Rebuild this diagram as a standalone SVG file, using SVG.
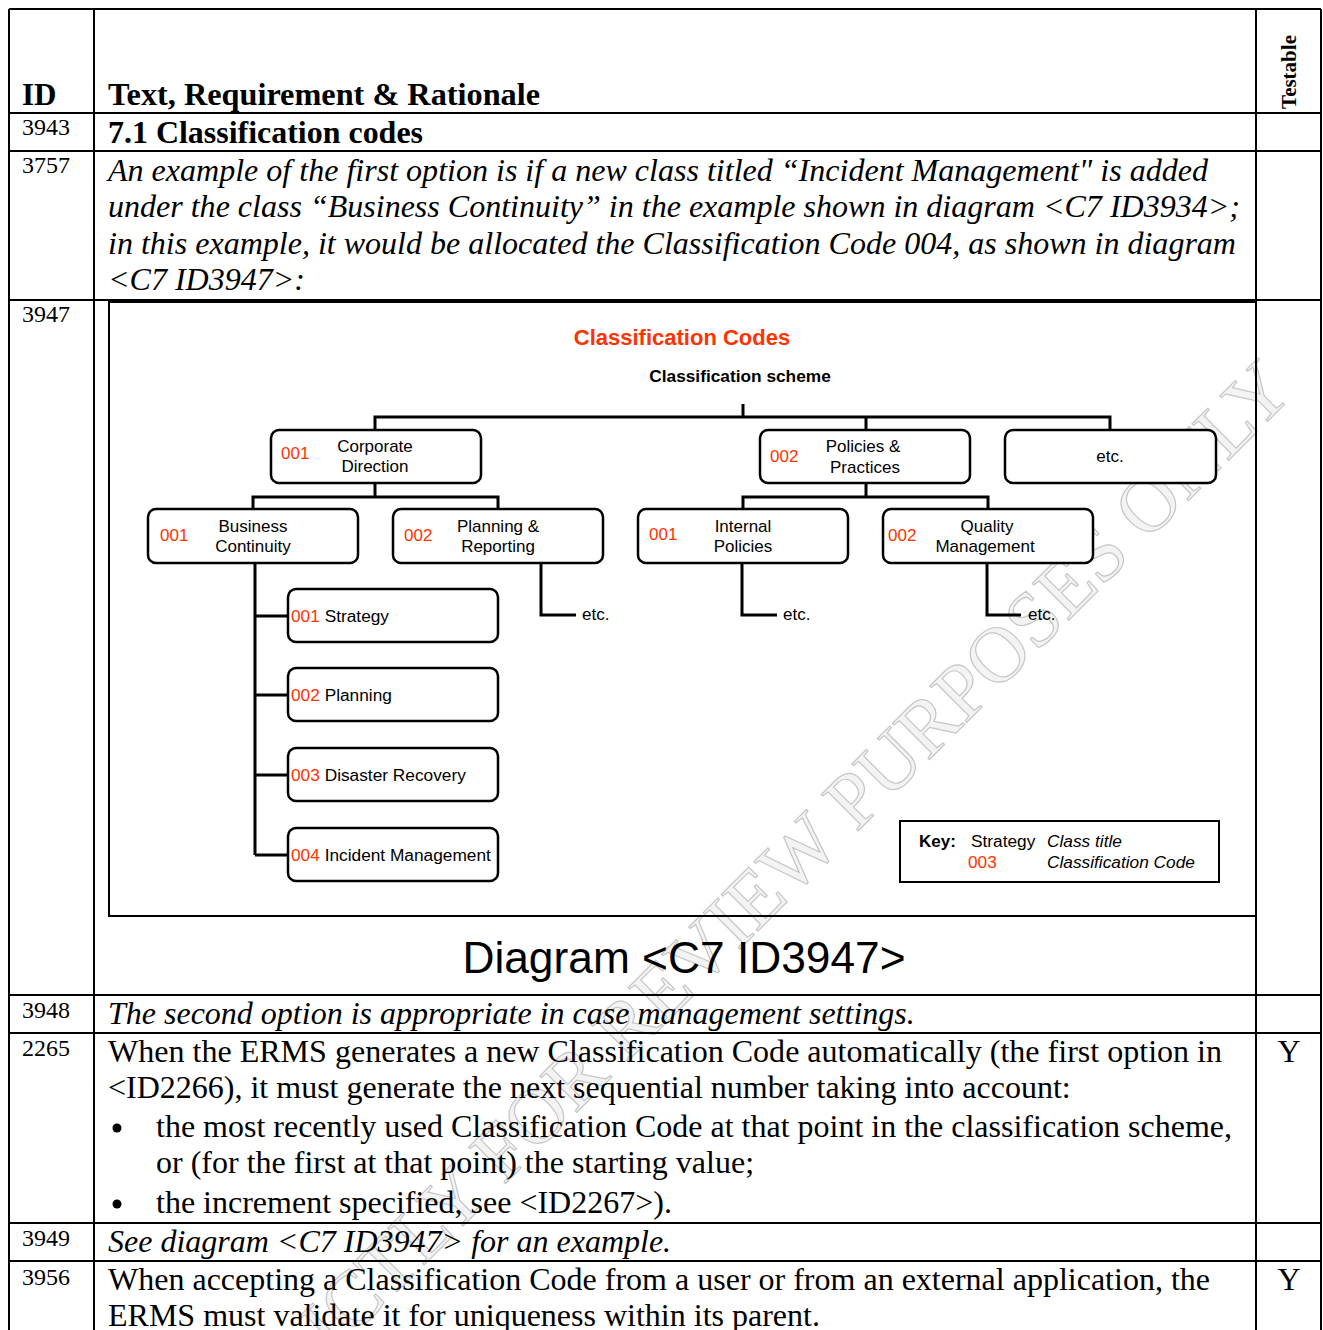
<svg xmlns="http://www.w3.org/2000/svg" width="1323" height="1330" viewBox="0 0 1323 1330">
<style>
.grid{stroke:#000;stroke-width:2;fill:none}
.tr{font-family:"Liberation Serif","Times New Roman",serif;fill:#000}
.id{font-size:24px}
.b{font-weight:bold}
.it{font-style:italic}
.body{font-size:32px}
.ar{font-family:"Liberation Sans",Arial,sans-serif;fill:#000}
.red{fill:#ff3300}
.box{fill:#fff;stroke:#000;stroke-width:2.5}
.ln{stroke:#000;stroke-width:3;fill:none}
.wm{font-family:"Liberation Serif","Times New Roman",serif;font-size:79px;fill:#f3f3f3;stroke:#c6c6c6;stroke-width:1.2}
</style>
<rect x="0" y="0" width="1323" height="1330" fill="#fff"/>

<!-- watermark -->
<text class="wm" text-anchor="end" transform="translate(1296,393) rotate(-45)">STRICTLY FOR REVIEW PURPOSES ONLY</text>

<!-- table grid -->
<g id="table-grid" class="grid">
<line x1="9" y1="9" x2="1321" y2="9"/>
<line x1="9" y1="9" x2="9" y2="1330"/>
<line x1="94" y1="9" x2="94" y2="1330"/>
<line x1="1256" y1="9" x2="1256" y2="1330"/>
<line x1="1321" y1="9" x2="1321" y2="1330"/>
<line x1="9" y1="113" x2="1321" y2="113"/>
<line x1="9" y1="151" x2="1321" y2="151"/>
<line x1="9" y1="300" x2="1321" y2="300"/>
<line x1="9" y1="995" x2="1321" y2="995"/>
<line x1="9" y1="1033" x2="1321" y2="1033"/>
<line x1="9" y1="1223" x2="1321" y2="1223"/>
<line x1="9" y1="1261" x2="1321" y2="1261"/>
</g>

<!-- header -->
<g id="header">
<text class="tr b" x="22" y="105" font-size="31">ID</text>
<text class="tr b" x="108" y="105" font-size="32" textLength="432" lengthAdjust="spacingAndGlyphs">Text, Requirement &amp; Rationale</text>
<text class="tr b" font-size="21" text-anchor="middle" transform="translate(1296,72) rotate(-90)">Testable</text>
</g>

<g id="row-3943">
<text class="tr id" x="22" y="135">3943</text>
<text class="tr b" x="108" y="143" font-size="32" textLength="315" lengthAdjust="spacingAndGlyphs">7.1 Classification codes</text>
</g>

<g id="row-3757">
<text class="tr id" x="22" y="173">3757</text>
<text class="tr it body" x="108" y="181" textLength="1100" lengthAdjust="spacingAndGlyphs">An example of the first option is if a new class titled “Incident Management" is added</text>
<text class="tr it body" x="108" y="217" textLength="1132" lengthAdjust="spacingAndGlyphs">under the class “Business Continuity” in the example shown in diagram &lt;C7 ID3934&gt;;</text>
<text class="tr it body" x="108" y="254" textLength="1128" lengthAdjust="spacingAndGlyphs">in this example, it would be allocated the Classification Code 004, as shown in diagram</text>
<text class="tr it body" x="108" y="290">&lt;C7 ID3947&gt;:</text>
</g>

<g id="row-3947">
<text class="tr id" x="22" y="322">3947</text>
<rect x="109" y="302" width="1147" height="614" fill="none" stroke="#000" stroke-width="2"/>
<text class="ar b red" x="682" y="345" font-size="22" text-anchor="middle">Classification Codes</text>
<text class="ar b" x="740" y="382" font-size="17.3" text-anchor="middle">Classification scheme</text>
<text class="ar" x="684" y="973" font-size="44.3" text-anchor="middle">Diagram &lt;C7 ID3947&gt;</text>
</g>

<!-- connectors -->
<g id="connectors" class="ln">
<path d="M743,404 V417 M375,430 V417 H1110 V430 M866,417 V430"/>
<path d="M375,483 V497 M253,509 V497 H498 V509"/>
<path d="M866,483 V497 M743,509 V497 H988 V509"/>
<path d="M541,563 V615 H576"/>
<path d="M742,563 V615 H777"/>
<path d="M987,563 V615 H1021"/>
<path d="M255,563 V855 M255,616 H288 M255,695 H288 M255,775 H288 M255,855 H288"/>
</g>

<g id="node-corporate-direction">
<rect class="box" x="271" y="430" width="210" height="53" rx="8"/>
<text class="ar red" x="281" y="459" font-size="17">001</text>
<text class="ar" x="375" y="452" font-size="17" text-anchor="middle">Corporate</text>
<text class="ar" x="375" y="472" font-size="17" text-anchor="middle">Direction</text>
</g>
<g id="node-policies-practices">
<rect class="box" x="760" y="430" width="210" height="53" rx="8"/>
<text class="ar red" x="770" y="462" font-size="17">002</text>
<text class="ar" x="863" y="452" font-size="17" text-anchor="middle">Policies &amp;</text>
<text class="ar" x="865" y="473" font-size="17" text-anchor="middle">Practices</text>
</g>
<g id="node-etc-top">
<rect class="box" x="1005" y="430" width="211" height="53" rx="8"/>
<text class="ar" x="1110" y="462" font-size="17" text-anchor="middle">etc.</text>
</g>
<g id="node-business-continuity">
<rect class="box" x="148" y="509" width="210" height="54" rx="8"/>
<text class="ar red" x="160" y="541" font-size="17">001</text>
<text class="ar" x="253" y="532" font-size="17" text-anchor="middle">Business</text>
<text class="ar" x="253" y="552" font-size="17" text-anchor="middle">Continuity</text>
</g>
<g id="node-planning-reporting">
<rect class="box" x="393" y="509" width="210" height="54" rx="8"/>
<text class="ar red" x="404" y="541" font-size="17">002</text>
<text class="ar" x="498" y="532" font-size="17" text-anchor="middle">Planning &amp;</text>
<text class="ar" x="498" y="552" font-size="17" text-anchor="middle">Reporting</text>
</g>
<g id="node-internal-policies">
<rect class="box" x="638" y="509" width="210" height="54" rx="8"/>
<text class="ar red" x="649" y="540" font-size="17">001</text>
<text class="ar" x="743" y="532" font-size="17" text-anchor="middle">Internal</text>
<text class="ar" x="743" y="552" font-size="17" text-anchor="middle">Policies</text>
</g>
<g id="node-quality-management">
<rect class="box" x="883" y="509" width="210" height="54" rx="8"/>
<text class="ar red" x="888" y="541" font-size="17">002</text>
<text class="ar" x="987" y="532" font-size="17" text-anchor="middle">Quality</text>
<text class="ar" x="985" y="552" font-size="17" text-anchor="middle">Management</text>
</g>
<g id="etc-planning"><text class="ar" x="582" y="620" font-size="17">etc.</text></g>
<g id="etc-internal"><text class="ar" x="783" y="620" font-size="17">etc.</text></g>
<g id="etc-quality"><text class="ar" x="1028" y="620" font-size="17">etc.</text></g>

<g id="node-strategy">
<rect class="box" x="288" y="589" width="210" height="53" rx="8"/>
<text class="ar" x="291" y="622" font-size="17.3"><tspan class="red">001</tspan> Strategy</text>
</g>
<g id="node-planning">
<rect class="box" x="288" y="668" width="210" height="53" rx="8"/>
<text class="ar" x="291" y="701" font-size="17.3"><tspan class="red">002</tspan> Planning</text>
</g>
<g id="node-disaster-recovery">
<rect class="box" x="288" y="748" width="210" height="53" rx="8"/>
<text class="ar" x="291" y="781" font-size="17.3"><tspan class="red">003</tspan> Disaster Recovery</text>
</g>
<g id="node-incident-management">
<rect class="box" x="288" y="828" width="210" height="53" rx="8"/>
<text class="ar" x="291" y="861" font-size="17.3"><tspan class="red">004</tspan> Incident Management</text>
</g>

<g id="key">
<rect x="900" y="821" width="319" height="61" fill="#fff" stroke="#000" stroke-width="2"/>
<text class="ar b" x="919" y="847" font-size="17">Key:</text>
<text class="ar" x="971" y="847" font-size="17.3">Strategy</text>
<text class="ar it" x="1047" y="847" font-size="17.3">Class title</text>
<text class="ar red" x="968" y="868" font-size="17.3">003</text>
<text class="ar it" x="1047" y="868" font-size="17.3">Classification Code</text>
</g>

<g id="row-3948">
<text class="tr id" x="22" y="1018">3948</text>
<text class="tr it body" x="108" y="1024">The second option is appropriate in case management settings.</text>
</g>

<g id="row-2265">
<text class="tr id" x="22" y="1056">2265</text>
<text class="tr body" x="108" y="1062" textLength="1114" lengthAdjust="spacingAndGlyphs">When the ERMS generates a new Classification Code automatically (the first option in</text>
<text class="tr body" x="108" y="1098">&lt;ID2266), it must generate the next sequential number taking into account:</text>
<circle cx="117" cy="1128" r="4.5" fill="#000"/>
<text class="tr body" x="156" y="1137" textLength="1076" lengthAdjust="spacingAndGlyphs">the most recently used Classification Code at that point in the classification scheme,</text>
<text class="tr body" x="156" y="1173">or (for the first at that point) the starting value;</text>
<circle cx="117" cy="1204" r="4.5" fill="#000"/>
<text class="tr body" x="156" y="1213">the increment specified, see &lt;ID2267&gt;).</text>
<text class="tr body" x="1289" y="1062" text-anchor="middle">Y</text>
</g>

<g id="row-3949">
<text class="tr id" x="22" y="1246">3949</text>
<text class="tr it body" x="108" y="1252">See diagram &lt;C7 ID3947&gt; for an example.</text>
</g>

<g id="row-3956">
<text class="tr id" x="22" y="1285">3956</text>
<text class="tr body" x="108" y="1290" textLength="1102" lengthAdjust="spacingAndGlyphs">When accepting a Classification Code from a user or from an external application, the</text>
<text class="tr body" x="108" y="1326">ERMS must validate it for uniqueness within its parent.</text>
<text class="tr body" x="1289" y="1290" text-anchor="middle">Y</text>
</g>
</svg>
